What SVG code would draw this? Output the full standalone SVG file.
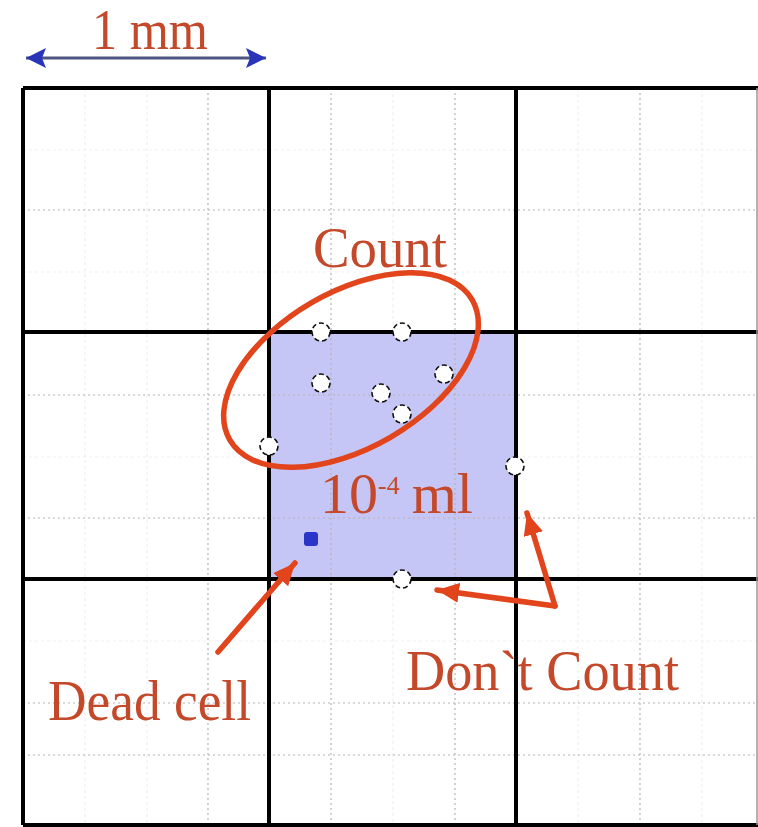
<svg xmlns="http://www.w3.org/2000/svg" width="758" height="827" viewBox="0 0 758 827">
<defs>
<style>
.lbl{font-family:"Liberation Serif","Times New Roman",serif;fill:#c4482a;font-size:58px}
.thick{stroke:#000;stroke-width:4;fill:none}
.dot{stroke:#b4b4b4;stroke-width:1.2;stroke-dasharray:2 3;fill:none}
.faint{stroke:#efefef;stroke-width:1.2;stroke-dasharray:3 3;fill:none}
.cell{fill:#fff;stroke:#111;stroke-width:1.6;stroke-dasharray:5 3}
.red{stroke:#e2441c;stroke-width:5.5;fill:none;stroke-linecap:round}
</style>
<marker id="redHead" markerUnits="userSpaceOnUse" markerWidth="24" markerHeight="22" refX="22" refY="10" orient="auto">
<path d="M0,0 L22,10 L0,20 Z" fill="#e2441c"/>
</marker>
<marker id="blueEnd" markerUnits="userSpaceOnUse" markerWidth="22" markerHeight="20" refX="20" refY="10" orient="auto">
<path d="M0,0 L20,10 L0,20 L4,10 Z" fill="#2a34b8"/>
</marker>
<marker id="blueStart" markerUnits="userSpaceOnUse" markerWidth="22" markerHeight="20" refX="2" refY="10" orient="auto">
<path d="M22,0 L2,10 L22,20 L18,10 Z" fill="#2a34b8"/>
</marker>
</defs>
<rect width="758" height="827" fill="#fff"/>

<g id="chamber-square">
<rect x="269" y="332" width="247" height="247" fill="#c6c6f6"/>
</g>

<g id="subgrid">
<path class="faint" d="M85,88V825M147,88V825M393,88V332M393,579V825M578,88V825M702,88V825M23,150H757M23,272H757M23,457H269M516,457H757M23,641H757"/>
<path class="dot" d="M208,88V825M331,88V825M455,88V825M640,88V825M23,210H757M23,395H757M23,518H757M23,703H757M23,755H757"/>
</g>

<g id="grid">
<path class="thick" d="M23,88V825M269,88V825M516,88V825M23,88H758M23,332H758M23,579H758M23,825H758"/>
<path d="M757,88V825" stroke="#999" stroke-width="1.5"/>
</g>

<g id="scale">
<line x1="26" y1="58" x2="266" y2="58" stroke="#4c5680" stroke-width="3" marker-start="url(#blueStart)" marker-end="url(#blueEnd)"/>
<text class="lbl" x="92" y="49" font-size="44" textLength="116" lengthAdjust="spacingAndGlyphs">1 mm</text>
</g>

<g id="count-ellipse">
<ellipse cx="351" cy="370" rx="140" ry="78" transform="rotate(-30 351 370)" class="red"/>
<text class="lbl" x="313" y="267" textLength="134" lengthAdjust="spacingAndGlyphs">Count</text>
</g>

<g id="cells">
<circle class="cell" cx="321" cy="332" r="9"/>
<circle class="cell" cx="402" cy="332" r="9"/>
<circle class="cell" cx="321" cy="383" r="9"/>
<circle class="cell" cx="444" cy="374" r="9"/>
<circle class="cell" cx="381" cy="393" r="9"/>
<circle class="cell" cx="402" cy="414" r="9"/>
<circle class="cell" cx="269" cy="446" r="9"/>
<circle class="cell" cx="515" cy="466" r="9"/>
<circle class="cell" cx="402" cy="579" r="9"/>
</g>

<g id="dead-cell">
<rect x="304" y="532" width="14" height="14" rx="3" fill="#2a34c8"/>
</g>

<g id="volume-label">
<text class="lbl" x="320" y="513" font-size="50">10<tspan font-size="26" dy="-19">-4</tspan><tspan dx="12" dy="19">ml</tspan></text>
</g>

<g id="labels">
<text class="lbl" x="48" y="720" textLength="203" lengthAdjust="spacingAndGlyphs">Dead cell</text>
<text class="lbl" x="406" y="690" textLength="273" lengthAdjust="spacingAndGlyphs">Don`t Count</text>
</g>

<g id="connectors">
<line class="red" x1="218" y1="652" x2="295" y2="563" marker-end="url(#redHead)"/>
<line class="red" x1="555" y1="606" x2="527" y2="513" marker-end="url(#redHead)"/>
<line class="red" x1="555" y1="606" x2="437" y2="590" marker-end="url(#redHead)"/>
</g>
</svg>
